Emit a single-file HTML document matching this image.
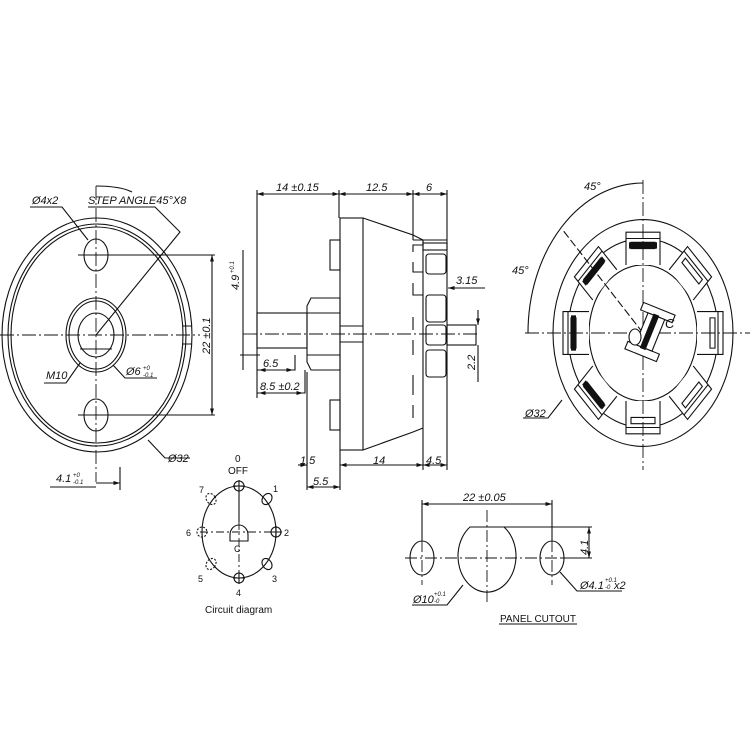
<!DOCTYPE html>
<html><head><meta charset="utf-8"><style>
html,body{margin:0;padding:0;background:#fff;}
svg{display:block}
text{font-family:"Liberation Sans",sans-serif;font-style:italic;fill:#111;}
.n{font-style:normal}
</style></head><body>
<svg width="750" height="750" viewBox="0 0 750 750" xmlns="http://www.w3.org/2000/svg">
<defs>
<marker id="a" viewBox="0 0 10 10" refX="10" refY="5" markerWidth="6" markerHeight="6" orient="auto-start-reverse"><path d="M0,2 L10,5 L0,8z" fill="#111"/></marker>
</defs>
<g fill="none" stroke="#111" stroke-width="1.1">
<!-- LEFT VIEW -->
<ellipse cx="97" cy="335" rx="95" ry="117"/>
<ellipse cx="97" cy="335" rx="89" ry="111"/>
<ellipse cx="97" cy="335" rx="86" ry="108"/>
<path d="M182 326 h10 M182 344 h10" />
<ellipse cx="96" cy="255" rx="12" ry="16"/>
<ellipse cx="96" cy="415" rx="12" ry="16"/>
<ellipse cx="96" cy="335" rx="30" ry="37"/>
<ellipse cx="96" cy="335" rx="27" ry="34"/>
<ellipse cx="96" cy="335" rx="18" ry="22"/>
<path d="M80 349 H112"/>
<path d="M96 186 V482 M0 335 H200" stroke-dasharray="14 3 2 3" stroke-width="0.9"/>
<path d="M78 255 H215 M78 415 H215"/>
<path d="M212 255 V415" marker-start="url(#a)" marker-end="url(#a)"/>
<path d="M96 186 Q120 186 132 192"/>
<path d="M96 335 L180 232 L155 207 H88"/>
<path d="M30 207 H62 L88 240"/>
<path d="M44 383 H66 L80 363"/>
<path d="M113 365 L125 378 H157"/>
<path d="M148 440 L165 458 H190"/>
<path d="M120 467 V490 M50 487 H96" />
<path d="M96 483 H120" marker-end="url(#a)"/>
<!-- MIDDLE VIEW -->
<path d="M257 190 V355 M339 190 V218 M413 190 V240 M447 190 V450 M257 355 V398"/>
<path d="M257 194 H339" marker-start="url(#a)" marker-end="url(#a)"/>
<path d="M339 194 H413" marker-start="url(#a)" marker-end="url(#a)"/>
<path d="M413 194 H447" marker-start="url(#a)" marker-end="url(#a)"/>
<rect x="340" y="218" width="23" height="232"/>
<path d="M363 218 L413 235 L423 240 M363 450 L413 432 L423 428 M423 240 V428"/>
<rect x="330" y="240" width="10" height="30"/>
<rect x="330" y="400" width="10" height="30"/>
<path d="M311 298 H340 V370 H311 L307 362 V306 Z"/>
<path d="M307 313 H340 M307 355 H340"/>
<rect x="257" y="313" width="50" height="35"/>
<path d="M340 326 H363 M340 342 H363"/>
<path d="M243 334 H480" stroke-dasharray="14 3 2 3" stroke-width="0.9"/>
<path d="M413 240 H423 V245 H413 V252 M413 262 V272 H423 M413 283 V295 H423 M413 317 V330 M413 340 V355 M413 375 V395 M413 405 V418 M423 240 H447"/>
<rect x="423" y="243" width="24" height="7"/>
<rect x="426" y="254" width="20" height="20" rx="3"/>
<rect x="426" y="295" width="20" height="27" rx="3"/>
<rect x="426" y="325" width="20" height="20" rx="3"/>
<rect x="426" y="350" width="20" height="27" rx="3"/>
<rect x="447" y="325" width="29" height="20"/>
<path d="M260 355 H240 M243 250 V370"/>
<path d="M448 288 H485 M448 288 H478" marker-start="url(#a)"/>
<path d="M478 310 V325" marker-end="url(#a)"/>
<path d="M478 345 V382"/>
<path d="M257 370 H295 V355" />
<path d="M259 370 H293" marker-start="url(#a)" marker-end="url(#a)"/>
<path d="M257 393 H305 V370"/>
<path d="M259 393 H303" marker-start="url(#a)" marker-end="url(#a)"/>
<path d="M307 372 V490 M340 450 V490 M423 428 V470 M447 450 V470"/>
<path d="M298 465 H307" marker-end="url(#a)"/>
<path d="M340 465 H423" marker-start="url(#a)" marker-end="url(#a)"/>
<path d="M423 465 H447" marker-start="url(#a)" marker-end="url(#a)"/>
<path d="M307 487 H340" marker-start="url(#a)" marker-end="url(#a)"/>
<!-- RIGHT VIEW -->
<g transform="translate(643,333) scale(1,1.26)">
<circle r="90" vector-effect="non-scaling-stroke"/>
<circle r="75" vector-effect="non-scaling-stroke"/>
<circle r="54" vector-effect="non-scaling-stroke"/>
<g id="t"><path d="M-17 -54 V-80 H17 V-54" fill="#fff" vector-effect="non-scaling-stroke"/><path d="M-17 -75 H17" vector-effect="non-scaling-stroke"/><rect x="-12" y="-72" width="24" height="5" vector-effect="non-scaling-stroke"/></g>
<use href="#t" transform="rotate(45)"/><use href="#t" transform="rotate(90)"/><use href="#t" transform="rotate(135)"/><use href="#t" transform="rotate(180)"/>
<use href="#t" transform="rotate(-45)"/><use href="#t" transform="rotate(-90)"/><use href="#t" transform="rotate(-135)"/>
<g fill="#111" stroke="none">
<rect x="-14" y="-72" width="28" height="5"/>
<rect x="-14" y="-72" width="28" height="5" transform="rotate(-45)"/>
<rect x="-14" y="-72" width="28" height="5" transform="rotate(-90)"/>
<rect x="-14" y="-72" width="28" height="5" transform="rotate(-135)"/>
</g>
</g>
<path d="M643 180 V470 M525 333 H750" stroke-dasharray="14 3 2 3" stroke-width="0.9"/>
<path d="M643 333 L562 229" stroke-dasharray="8 3"/>
<path d="M528 333 A115 150 0 0 1 643 183"/>
<g transform="translate(650,332) rotate(22)">
<rect x="-17" y="-25" width="34" height="8" fill="#fff"/>
<rect x="-17" y="17" width="34" height="8" fill="#fff"/>
<rect x="-9" y="-17" width="18" height="34" fill="#fff"/>
<rect x="-3" y="-18" width="5" height="36" fill="#111"/>
</g>
<ellipse cx="635" cy="337" rx="6" ry="8" fill="#fff"/>
<path d="M523 418 H548 L562 400"/>
<!-- CIRCUIT -->
<ellipse cx="239" cy="532" rx="37" ry="46"/>
<path d="M239 490 V578 M200 532 H280" stroke-dasharray="8 3 2 3" stroke-width="0.9"/>
<path d="M239 490 V522"/>
<path d="M230 535 A9 10 0 0 1 248 535 V541 H230 Z"/>
<circle cx="239" cy="486" r="5"/><path d="M233 486 H245 M239 480 V492"/>
<circle cx="239" cy="578" r="5"/><path d="M233 578 H245 M239 572 V584"/>
<circle cx="276" cy="532" r="5"/><path d="M270 532 H282 M276 526 V538"/>
<circle cx="202" cy="532" r="5" stroke-dasharray="2 1.5"/>
<ellipse cx="267" cy="499" rx="4.5" ry="6" transform="rotate(35 267 499)"/>
<ellipse cx="267" cy="564" rx="4.5" ry="6" transform="rotate(-35 267 564)"/>
<ellipse cx="211" cy="499" rx="4.5" ry="6" transform="rotate(-35 211 499)" stroke-dasharray="2 1.5"/>
<ellipse cx="211" cy="564" rx="4.5" ry="6" transform="rotate(35 211 564)" stroke-dasharray="2 1.5"/>
<!-- PANEL -->
<ellipse cx="422" cy="558" rx="12" ry="17"/>
<ellipse cx="552" cy="558" rx="12" ry="17"/>
<path d="M470 527 H504 A29 36 0 1 1 470 527 Z"/>
<path d="M405 558 H575 M487 510 V605 M422 540 V585 M552 540 V585" stroke-dasharray="12 3 2 3" stroke-width="0.9"/>
<path d="M422 500 V540 M552 500 V540"/>
<path d="M422 504 H552" marker-start="url(#a)" marker-end="url(#a)"/>
<path d="M504 527 H592 M560 558 H592"/>
<path d="M589 527 V558" marker-start="url(#a)" marker-end="url(#a)"/>
<path d="M463 585 L447 605 H412"/>
<path d="M560 572 L577 591 H622"/>
<path d="M499 624 H577"/>
</g>
<g font-size="11">
<text x="32" y="204">Ø4x2</text>
<text x="88" y="204">STEP ANGLE45°X8</text>
<text x="46" y="379">M10</text>
<text x="126" y="375">Ø6</text><text x="143" y="370" font-size="6">+0</text><text x="143" y="377" font-size="6">-0.1</text>
<text x="168" y="462">Ø32</text>
<text x="56" y="482">4.1</text><text x="73" y="477" font-size="6">+0</text><text x="73" y="484" font-size="6">-0.1</text>
<text transform="translate(210,354) rotate(-90)">22 ±0.1</text>
<text transform="translate(239,290) rotate(-90)">4.9</text>
<text transform="translate(234,273) rotate(-90)" font-size="6">+0.1</text>
<text x="276" y="191">14 ±0.15</text>
<text x="366" y="191">12.5</text>
<text x="426" y="191">6</text>
<text x="456" y="284">3.15</text>
<text transform="translate(475,370) rotate(-90)">2.2</text>
<text x="263" y="367">6.5</text>
<text x="260" y="390">8.5 ±0.2</text>
<text x="300" y="464">1.5</text>
<text x="373" y="464">14</text>
<text x="426" y="464">4.5</text>
<text x="313" y="485">5.5</text>
<text x="584" y="190">45°</text>
<text x="512" y="274">45°</text>
<text x="525" y="417">Ø32</text>
<text x="665" y="328" font-size="13">C</text>
<text x="463" y="501">22 ±0.05</text>
<text transform="translate(588,555) rotate(-90)">4.1</text>
<text x="413" y="603">Ø10</text><text x="434" y="596" font-size="6">+0.1</text><text x="434" y="603" font-size="6">-0</text>
<text x="580" y="589">Ø4.1</text><text x="605" y="582" font-size="6">+0.1</text><text x="605" y="589" font-size="6">-0</text><text x="614" y="589">x2</text>
</g>
<g font-size="10" class="n">
<text class="n" x="235" y="462">0</text>
<text class="n" x="228" y="474">OFF</text>
<text class="n" x="273" y="492" font-size="9">1</text>
<text class="n" x="284" y="536" font-size="9">2</text>
<text class="n" x="272" y="582" font-size="9">3</text>
<text class="n" x="236" y="596" font-size="9">4</text>
<text class="n" x="198" y="582" font-size="9">5</text>
<text class="n" x="186" y="536" font-size="9">6</text>
<text class="n" x="199" y="493" font-size="9">7</text>
<text class="n" x="234" y="552" font-size="9">C</text>
<text class="n" x="205" y="613">Circuit diagram</text>
<text class="n" x="500" y="622">PANEL CUTOUT</text>
</g>
</svg>
</body></html>
